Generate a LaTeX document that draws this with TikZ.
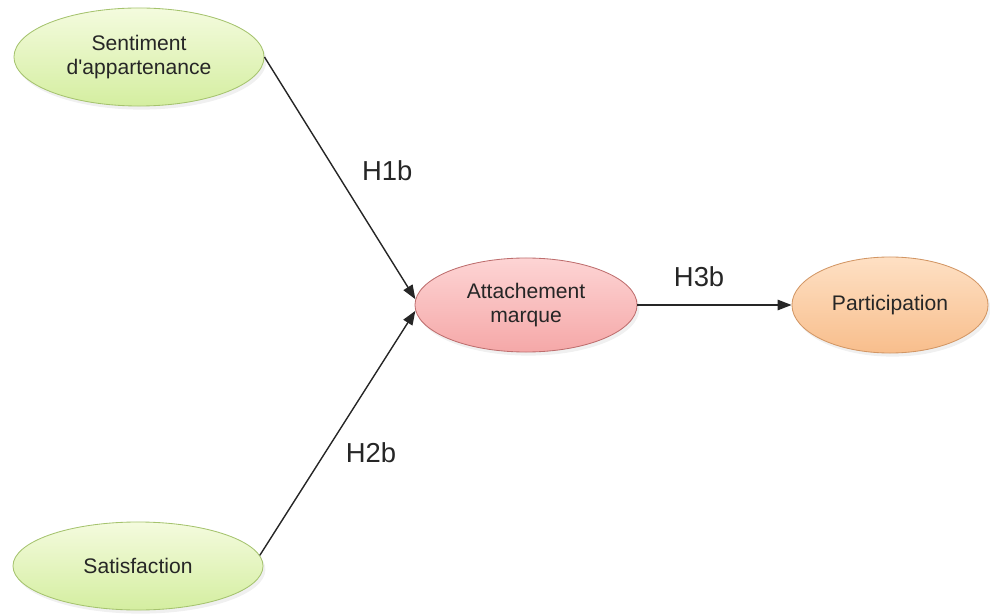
\documentclass[tikz,border=0pt]{standalone}
\usepackage{fontspec}
\setmainfont{Liberation Sans}
\usetikzlibrary{arrows.meta,shapes.geometric,shadows}

\definecolor{greenTop}{RGB}{244,251,222}
\definecolor{greenBot}{RGB}{212,238,160}
\definecolor{greenLine}{RGB}{165,195,110}
\definecolor{pinkTop}{RGB}{253,212,212}
\definecolor{pinkBot}{RGB}{245,168,168}
\definecolor{pinkLine}{RGB}{190,110,110}
\definecolor{orangeTop}{RGB}{254,224,196}
\definecolor{orangeBot}{RGB}{248,190,140}
\definecolor{orangeLine}{RGB}{210,150,100}

\begin{document}
\begin{tikzpicture}[auto, x=0.025cm, y=-0.025cm,
			main node/.style={ellipse,draw,inner sep=0pt,line width=0.6pt,
				text=black!85,font=\fontsize{15}{17}\selectfont,align=center,
				drop shadow={opacity=0.12,shadow xshift=0.6mm,shadow yshift=-0.9mm}},
			green node/.style={main node,top color=greenTop,bottom color=greenBot,draw=greenLine},
			hyp/.style={inner sep=0pt,font=\fontsize{19.5}{22}\selectfont}]
			
			\useasboundingbox (0,0) rectangle (990,615);
			
			\node[green node,minimum width=6.25cm,minimum height=2.45cm] (sent) at (139,57) {Sentiment\\d\textquotesingle appartenance};
			\node[green node,minimum width=6.25cm,minimum height=2.2cm] (sat) at (138,566) {Satisfaction};
			\node[main node,top color=pinkTop,bottom color=pinkBot,draw=pinkLine,
				minimum width=5.55cm,minimum height=2.35cm] (attache) at (526,305) {Attachement\\marque};
			\node[main node,top color=orangeTop,bottom color=orangeBot,draw=orangeLine,
				minimum width=4.9cm,minimum height=2.4cm] (part) at (890,305) {Participation};
			
			\path[every edge/.style={draw,-{Triangle[length=10pt,width=7.5pt]},line width=1pt,black!85}]
			(sent.east) edge node[hyp,pos=0.47,right=6.5mm] {H1b} (attache.177)
			(sat.5) edge node[hyp,pos=0.42,right=5mm] {H2b} (attache.183)
			(attache.east) edge node[hyp,pos=0.4,above=4.5mm] {H3b} (part.west);
			\end{tikzpicture}
\end{document}
